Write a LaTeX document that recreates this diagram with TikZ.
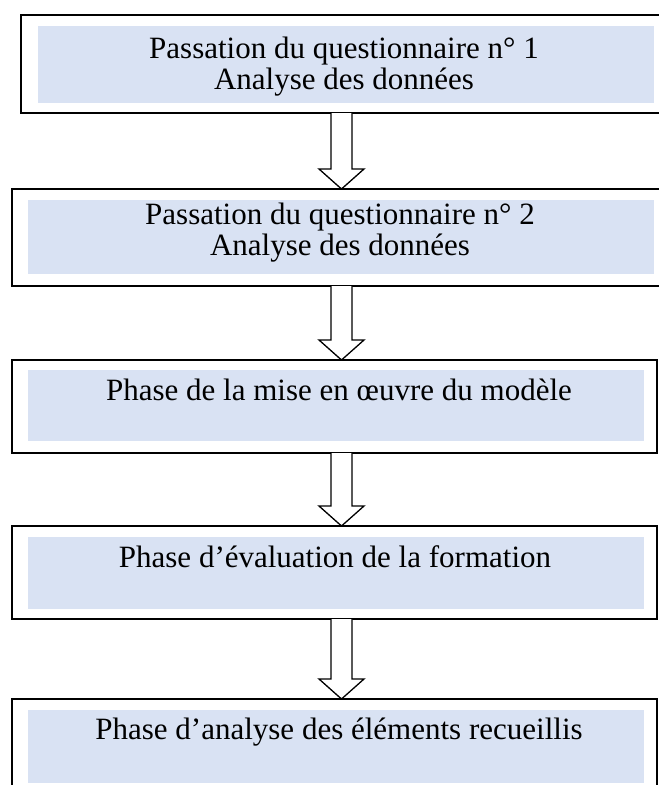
\documentclass[tikz,border=0pt]{standalone}
\usepackage{fontspec}
\setmainfont{Liberation Serif}
\usetikzlibrary{calc}
\definecolor{fillblue}{RGB}{217,226,243}
\begin{document}
\begin{tikzpicture}[x=1pt,y=-1pt,
  outerbox/.style={draw=black,line width=2pt,fill=white,rectangle,inner sep=0pt,outer sep=0pt,anchor=north west},
  innerbox/.style={fill=fillblue,draw=none,rectangle,inner sep=0pt,outer sep=0pt,anchor=north west},
  boxtext/.style={font=\fontsize{31}{35}\selectfont,anchor=base,inner sep=0pt},
  blockarrow/.style={draw=black,line width=1.3pt,fill=white,line join=miter}]
\useasboundingbox (0,0) rectangle (659,785);
\clip (0,0) rectangle (659,785);
% outer boxes
\node[outerbox,minimum width=651pt,minimum height=98pt] (b1) at (21,15) {};
\node[outerbox,minimum width=660pt,minimum height=97pt] (b2) at (12,189) {};
\node[outerbox,minimum width=645pt,minimum height=93pt] (b3) at (12,360) {};
\node[outerbox,minimum width=645pt,minimum height=93pt] (b4) at (12,526) {};
\node[outerbox,minimum width=645pt,minimum height=110pt] (b5) at (12,699) {};
% inner fills
\node[innerbox,minimum width=616pt,minimum height=77pt] (i1) at (38,26) {};
\node[innerbox,minimum width=626pt,minimum height=74pt] (i2) at (28,200) {};
\node[innerbox,minimum width=616pt,minimum height=71pt] (i3) at (28,370) {};
\node[innerbox,minimum width=616pt,minimum height=72pt] (i4) at (28,537) {};
\node[innerbox,minimum width=616pt,minimum height=73pt] (i5) at (28,710) {};
% texts
\node[boxtext] (t1a) at (344,58) {Passation du questionnaire n° 1};
\node[boxtext] (t1b) at (344,89) {Analyse des données};
\node[boxtext] (t2a) at (340,224) {Passation du questionnaire n° 2};
\node[boxtext] (t2b) at (340,255) {Analyse des données};
\node[boxtext] (t3) at (339,400) {Phase de la mise en œuvre du modèle};
\node[boxtext] (t4) at (335,567) {Phase d’évaluation de la formation};
\node[boxtext] (t5) at (339,739) {Phase d’analyse des éléments recueillis};
% block arrows
\coordinate (ax) at (341.5,0);
\foreach \a/\b in {b1/b2,b2/b3,b3/b4,b4/b5}{
  \draw[blockarrow] ($(ax|-\a.south)+(-10.5,0)$) -- ($(ax|-\b.north)+(-10.5,-20)$)
    -- ($(ax|-\b.north)+(-22.5,-20)$) -- (ax|-\b.north)
    -- ($(ax|-\b.north)+(22.5,-20)$) -- ($(ax|-\b.north)+(10.5,-20)$)
    -- ($(ax|-\a.south)+(10.5,0)$);
}
\end{tikzpicture}
\end{document}
